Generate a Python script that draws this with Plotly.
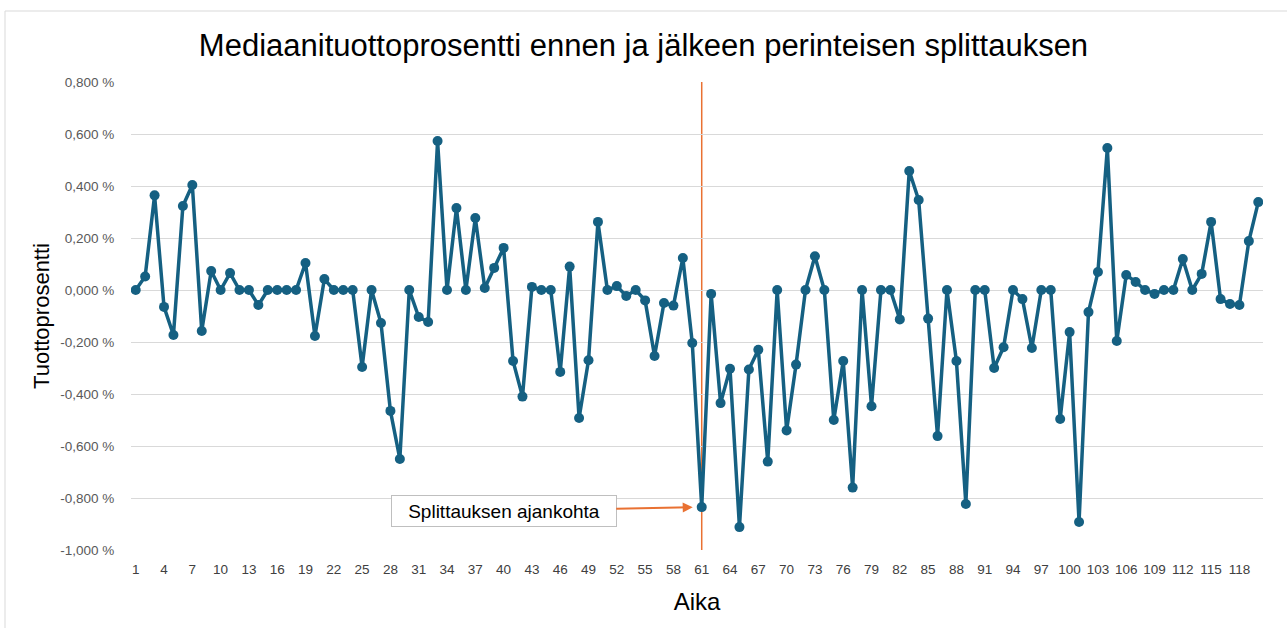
import plotly.graph_objects as go

# median return (%) per time step, split happens at step 61
aika = list(range(1, 121))
tuotto = [
    0.000, 0.052, 0.364, -0.065, -0.173, 0.323, 0.404, -0.158, 0.073, 0.000,
    0.065, 0.000, 0.000, -0.058, 0.000, 0.000, 0.000, 0.000, 0.104, -0.177,
    0.042, 0.000, 0.000, 0.000, -0.296, 0.000, -0.127, -0.465, -0.650, 0.000,
    -0.104, -0.123, 0.573, 0.000, 0.315, 0.000, 0.277, 0.008, 0.085, 0.162,
    -0.273, -0.410, 0.012, 0.000, 0.000, -0.315, 0.090, -0.492, -0.270, 0.262,
    0.000, 0.015, -0.023, 0.000, -0.040, -0.254, -0.050, -0.060, 0.123, -0.204,
    -0.835, -0.015, -0.435, -0.303, -0.912, -0.306, -0.230, -0.660, 0.000, -0.540,
    -0.287, 0.000, 0.130, 0.000, -0.500, -0.273, -0.760, 0.000, -0.447, 0.000,
    0.000, -0.113, 0.458, 0.346, -0.110, -0.562, 0.000, -0.273, -0.823, 0.000,
    0.000, -0.300, -0.220, 0.000, -0.035, -0.223, 0.000, 0.000, -0.496, -0.162,
    -0.892, -0.085, 0.069, 0.546, -0.196, 0.058, 0.031, 0.000, -0.015, 0.000,
    0.000, 0.119, 0.000, 0.062, 0.262, -0.035, -0.054, -0.058, 0.188, 0.338,
]
split_kohta = 61
y_ticks = [0.8, 0.6, 0.4, 0.2, 0.0, -0.2, -0.4, -0.6, -0.8, -1.0]
y_labels = ['0,800 %', '0,600 %', '0,400 %', '0,200 %', '0,000 %',
            '-0,200 %', '-0,400 %', '-0,600 %', '-0,800 %', '-1,000 %']

fig = go.Figure()

fig.add_trace(go.Scatter(x=aika, y=tuotto, mode='lines+markers',
                         line=dict(color='#156082', width=3.5),
                         marker=dict(color='#156082', size=10),
                         showlegend=False))

# vertical line at the split
fig.add_shape(type='line', xref='x', yref='paper', x0=split_kohta, x1=split_kohta,
              y0=0, y1=1, line=dict(color='#E97132', width=1.5), layer='below')

# chart area border
fig.add_shape(type='rect', xref='paper', yref='paper', x0=-0.1113, x1=1.05,
              y0=-0.3, y1=1.1517, line=dict(color='#d9d9d9', width=1))

fig.add_annotation(x=split_kohta, y=tuotto[split_kohta - 1], xref='x', yref='y',
                   text='Splittauksen ajankohta', showarrow=True,
                   ax=-198, ay=4, arrowhead=2, arrowsize=1, arrowwidth=2,
                   arrowcolor='#E97132', standoff=9,
                   bordercolor='#bfbfbf', borderwidth=1, borderpad=4,
                   bgcolor='white', width=216, height=22,
                   font=dict(family='Liberation Sans, Arial', size=19, color='#000000'))

fig.update_layout(
    width=1287, height=628,
    paper_bgcolor='white', plot_bgcolor='white',
    margin=dict(l=131, r=24, t=82, b=78),
    font=dict(family='Liberation Sans, Arial', color='#595959'),
    title=dict(text='Mediaanituottoprosentti ennen ja jälkeen perinteisen splittauksen',
               x=0.5, xanchor='center', y=0.928, yanchor='middle',
               font=dict(size=31, color='#000000')),
    xaxis=dict(range=[0.5, 120.5], tickmode='linear', tick0=1, dtick=3,
               showgrid=False, zeroline=False, showline=False,
               ticks='outside', ticklen=7, tickcolor='rgba(0,0,0,0)',
               tickfont=dict(size=13.5, color='#404040'),
               title=dict(text='Aika', font=dict(size=24, color='#000000'), standoff=16)),
    yaxis=dict(range=[-1.0, 0.8], tickvals=y_ticks, ticktext=y_labels,
               showgrid=True, gridcolor='#d9d9d9', gridwidth=1,
               zeroline=False, showline=False,
               ticks='outside', ticklen=13, tickcolor='rgba(0,0,0,0)',
               tickfont=dict(size=13.5, color='#595959'),
               title=dict(text='Tuottoprosentti', font=dict(size=22, color='#000000'), standoff=4)),
)

fig.write_html("out.html", config={'displayModeBar': False},
               post_script="document.body.style.margin='0';")
